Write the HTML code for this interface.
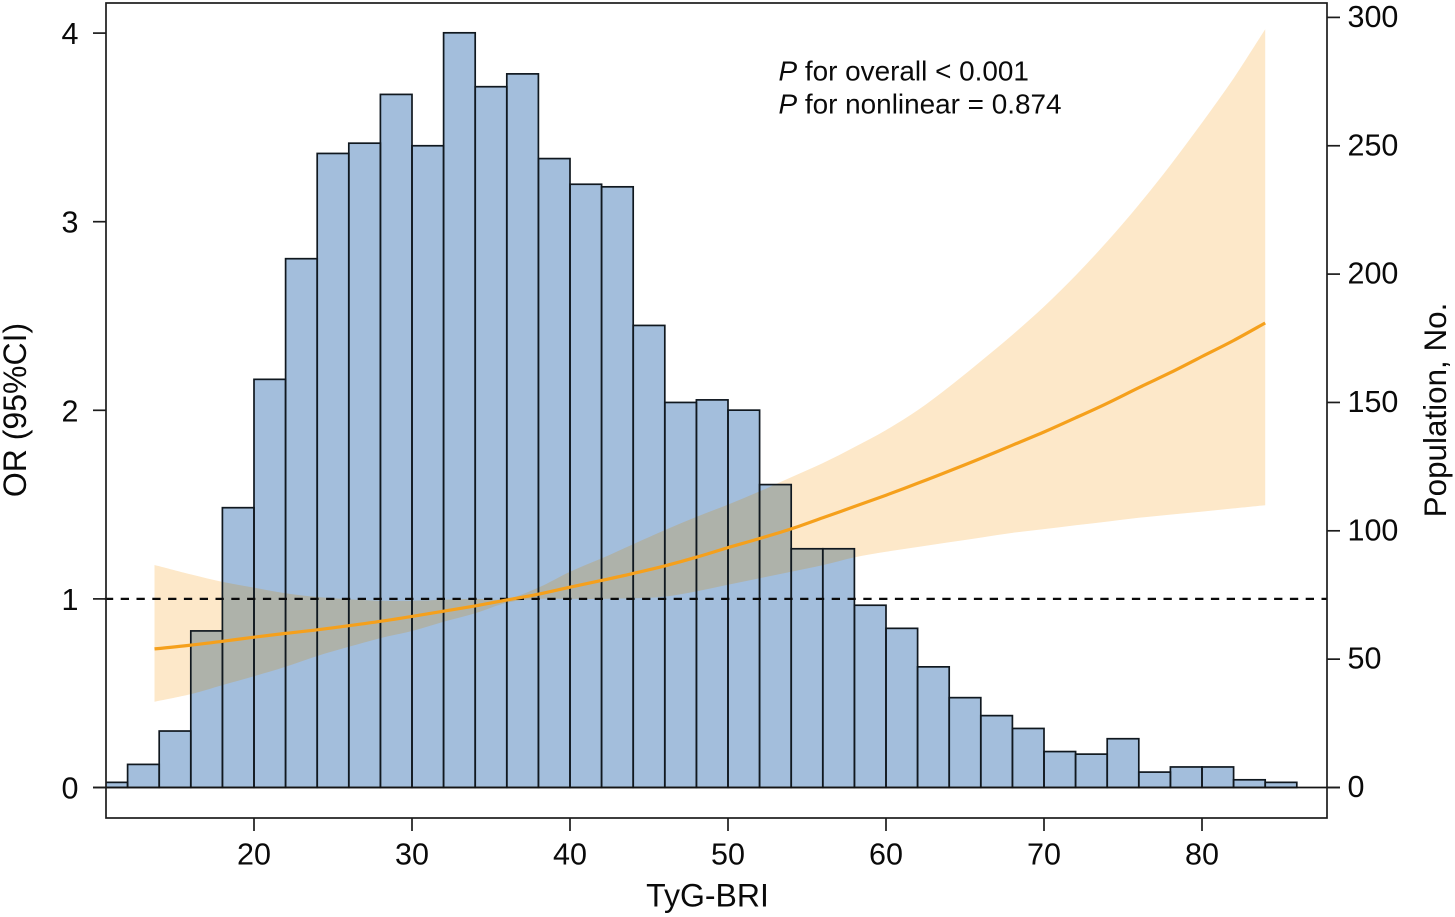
<!DOCTYPE html>
<html lang="en">
<head>
<meta charset="utf-8">
<title>TyG-BRI restricted cubic spline chart</title>
<style>
html,body{margin:0;padding:0;background:#fff;width:1455px;height:917px;overflow:hidden}
svg{display:block}
text{font-family:"Liberation Sans",sans-serif;fill:#0a0a0a}
</style>
</head>
<body>
<svg id="chart" width="1455" height="917" viewBox="0 0 1455 917" xmlns="http://www.w3.org/2000/svg">
<rect x="0" y="0" width="1455" height="917" fill="#fff"/>
</svg>
<script>
const histBinStart = 10;
const histBinWidth = 2;
const histCounts = [2,9,22,61,109,159,206,247,251,270,250,294,273,278,245,235,234,180,150,151,147,118,93,93,71,62,47,35,28,23,14,13,19,6,8,8,3,2];
const curveX = [13.7,16,18,20,22,24,26,28,30,32,34,36,38,40,42,44,46,48,50,52,54,56,58,60,62,64,66,68,70,72,74,76,78,80,82,84];
const orValues = [0.735,0.755,0.775,0.797,0.817,0.836,0.858,0.881,0.907,0.935,0.963,0.994,1.025,1.062,1.098,1.135,1.175,1.221,1.272,1.32,1.371,1.43,1.49,1.55,1.613,1.678,1.745,1.815,1.885,1.96,2.037,2.12,2.2,2.285,2.37,2.463];
const ciUpper = [1.18,1.13,1.09,1.06,1.03,1.01,0.998,0.99,0.99,0.995,1.0,1.0,1.06,1.144,1.215,1.29,1.365,1.435,1.5,1.57,1.645,1.72,1.805,1.895,2.0,2.125,2.26,2.4,2.55,2.715,2.895,3.09,3.3,3.525,3.76,4.02];
const ciLower = [0.455,0.495,0.543,0.59,0.64,0.697,0.746,0.792,0.83,0.879,0.924,0.98,1.0,1.0,1.0,1.003,1.012,1.04,1.075,1.11,1.144,1.179,1.22,1.25,1.275,1.3,1.325,1.35,1.37,1.39,1.41,1.43,1.447,1.463,1.48,1.497];
const xTicks = [20,30,40,50,60,70,80];
const yLeftTicks = [0,1,2,3,4];
const yRightTicks = [0,50,100,150,200,250,300];
const referenceOR = 1;

const svgNS = 'http://www.w3.org/2000/svg';
const svg = document.getElementById('chart');
const plotLeft = 106, plotRight = 1327, plotTop = 3, plotBottom = 818;
const xPos = v => 254 + (v - 20) * 15.8;
const yLeft = v => 787.5 - v * 188.6;
const yRight = v => 787.5 - v * 2.567;

function mk(tag, attrs, parent) {
  const el = document.createElementNS(svgNS, tag);
  for (const k in attrs) el.setAttribute(k, attrs[k]);
  (parent || svg).appendChild(el);
  return el;
}
/* Smooth Catmull-Rom segments through a list of [px, py] pairs. */
function smooth(pts, start) {
  let d = (start ? 'M' : 'L') + pts[0][0].toFixed(1) + ' ' + pts[0][1].toFixed(1);
  for (let i = 0; i < pts.length - 1; i++) {
    const p0 = pts[Math.max(i - 1, 0)], p1 = pts[i], p2 = pts[i + 1], p3 = pts[Math.min(i + 2, pts.length - 1)];
    const c1x = p1[0] + (p2[0] - p0[0]) / 6, c1y = p1[1] + (p2[1] - p0[1]) / 6;
    const c2x = p2[0] - (p3[0] - p1[0]) / 6, c2y = p2[1] - (p3[1] - p1[1]) / 6;
    d += 'C' + c1x.toFixed(1) + ' ' + c1y.toFixed(1) + ' ' + c2x.toFixed(1) + ' ' + c2y.toFixed(1) + ' ' + p2[0].toFixed(1) + ' ' + p2[1].toFixed(1);
  }
  return d;
}
function seriesPoints(values) {
  return curveX.map((x, i) => [xPos(x), yLeft(values[i])]);
}
function ribbonPath() {
  return smooth(seriesPoints(ciUpper), true) + smooth(seriesPoints(ciLower).reverse(), false) + 'Z';
}

const defs = mk('defs', {});
const plotClip = mk('clipPath', {id: 'plot-clip'}, defs);
mk('rect', {x: plotLeft, y: plotTop, width: plotRight - plotLeft, height: plotBottom - plotTop}, plotClip);
const barClip = mk('clipPath', {id: 'bar-clip'}, defs);
histCounts.forEach((c, i) => {
  const x0 = xPos(histBinStart + i * histBinWidth), x1 = xPos(histBinStart + (i + 1) * histBinWidth);
  mk('rect', {x: x0, y: yRight(c), width: x1 - x0, height: yRight(0) - yRight(c)}, barClip);
});

const ribbonLight = mk('path', {d: ribbonPath(), fill: '#FDE8C9'});



const barsFill = mk('g', {'clip-path': 'url(#plot-clip)'});


histCounts.forEach((c, i) => {
  const x0 = xPos(histBinStart + i * histBinWidth), x1 = xPos(histBinStart + (i + 1) * histBinWidth);
  const bar = mk('rect', {x: x0, y: yRight(c), width: x1 - x0, height: yRight(0) - yRight(c), fill: '#A3BEDC'}, barsFill);
  
  
});

const ribbonOverlap = mk('path', {d: ribbonPath(), fill: '#AEB2AA', 'clip-path': 'url(#bar-clip)'});



const barsStroke = mk('g', {'clip-path': 'url(#plot-clip)'});


histCounts.forEach((c, i) => {
  const x0 = xPos(histBinStart + i * histBinWidth), x1 = xPos(histBinStart + (i + 1) * histBinWidth);
  const edge = mk('rect', {x: x0, y: yRight(c), width: x1 - x0, height: yRight(0) - yRight(c), fill: 'none', stroke: '#10181f', 'stroke-width': 1.7}, barsStroke);
  
  
});

const zeroLine = mk('line', {x1: 93, x2: 1340, y1: yLeft(0), y2: yLeft(0), stroke: '#141414', 'stroke-width': 1.7});



const refLine = mk('line', {x1: plotLeft - 1.1, x2: plotRight, y1: yLeft(referenceOR), y2: yLeft(referenceOR), stroke: '#0a0a0a', 'stroke-width': 2.3, 'stroke-dasharray': '8.3 7.5'});



const orLine = mk('path', {d: smooth(seriesPoints(orValues), true), fill: 'none', stroke: '#F5A01C', 'stroke-width': 3.2, 'stroke-linejoin': 'round'});



const frame = mk('rect', {x: plotLeft, y: plotTop, width: plotRight - plotLeft, height: plotBottom - plotTop, fill: 'none', stroke: '#1c1c1c', 'stroke-width': 1.7});



xTicks.forEach(v => {
  const tick = mk('line', {x1: xPos(v), x2: xPos(v), y1: plotBottom, y2: 831, stroke: '#1c1c1c', 'stroke-width': 1.7});
  
  
  const label = mk('text', {x: xPos(v), y: 864.5, 'text-anchor': 'middle', 'font-size': 30.5});
  label.textContent = v;
  
  
});
yLeftTicks.forEach(v => {
  const tick = mk('line', {x1: 93, x2: plotLeft, y1: yLeft(v), y2: yLeft(v), stroke: '#1c1c1c', 'stroke-width': 1.7});
  
  
  const label = mk('text', {x: 78.5, y: yLeft(v) + 11, 'text-anchor': 'end', 'font-size': 30.5});
  label.textContent = v;
  
  
});
yRightTicks.forEach(v => {
  const tick = mk('line', {x1: plotRight, x2: 1340, y1: yRight(v), y2: yRight(v), stroke: '#1c1c1c', 'stroke-width': 1.7});
  
  
  const label = mk('text', {x: 1347.5, y: yRight(v) + 9.5, 'text-anchor': 'start', 'font-size': 30.5});
  label.textContent = v;
  
  
});

const xTitle = mk('text', {x: 707.5, y: 906.5, 'text-anchor': 'middle', 'font-size': 32});
xTitle.textContent = 'TyG-BRI';



const yTitle = mk('text', {x: 0, y: 0, 'text-anchor': 'middle', 'font-size': 32, transform: 'translate(26 410) rotate(-90)'});
yTitle.textContent = 'OR (95%CI)';



const yTitleR = mk('text', {x: 0, y: 0, 'text-anchor': 'middle', 'font-size': 31.4, transform: 'translate(1446 410) rotate(-90)'});
yTitleR.textContent = 'Population, No.';



const note1 = mk('text', {x: 778.5, y: 80.5, 'font-size': 27.9});


const p1 = mk('tspan', {'font-style': 'italic'}, note1);
p1.textContent = 'P';
const r1 = mk('tspan', {}, note1);
r1.textContent = ' for overall < 0.001';

const note2 = mk('text', {x: 778.5, y: 113.5, 'font-size': 27.9});


const p2 = mk('tspan', {'font-style': 'italic'}, note2);
p2.textContent = 'P';
const r2 = mk('tspan', {}, note2);
r2.textContent = ' for nonlinear = 0.874';
</script>
</body>
</html>
